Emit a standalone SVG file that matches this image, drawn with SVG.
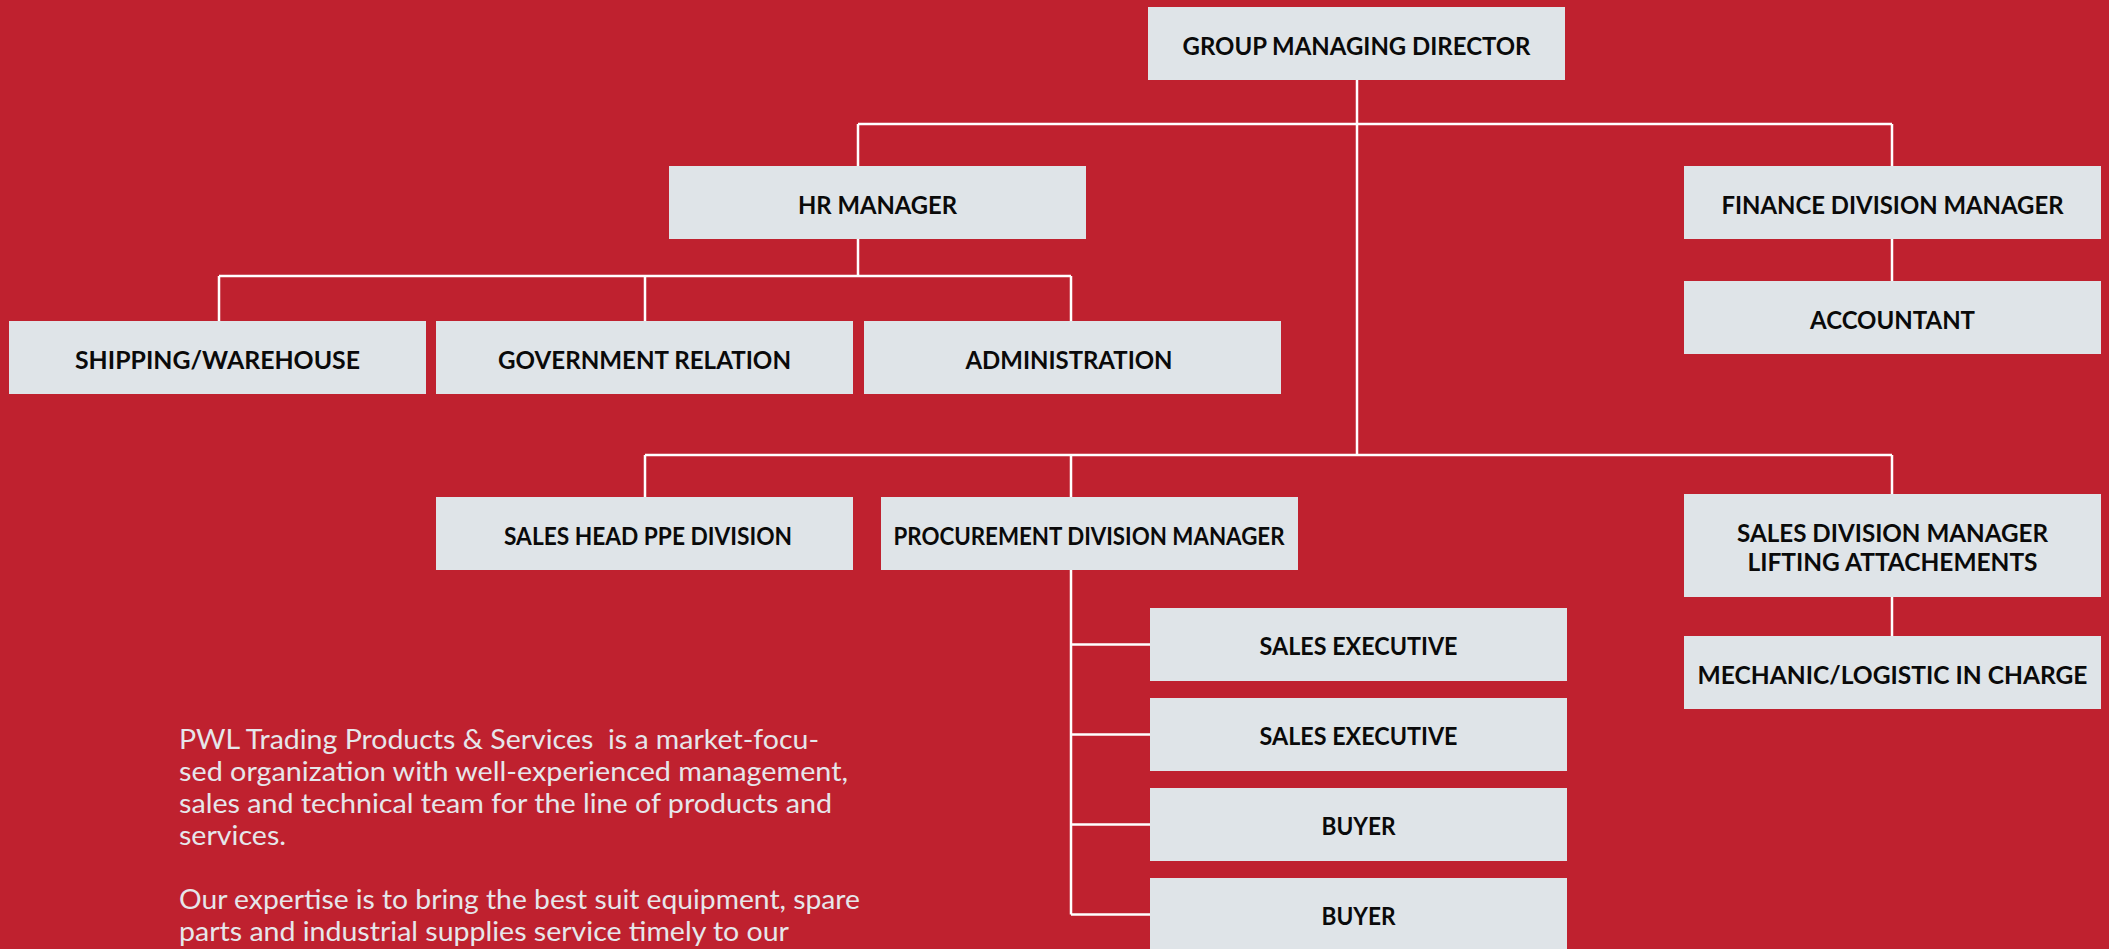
<svg xmlns="http://www.w3.org/2000/svg" width="2109" height="949" viewBox="0 0 2109 949">
<style>
.bg{fill:#bf212f}
.box{fill:#dfe4e8}
.lbl{font-family:Lato,"Liberation Sans",sans-serif;font-weight:700;font-size:24px;fill:#0a0a0a;text-anchor:middle}
.con{stroke:#ffffff;stroke-width:2.5;fill:none}
.para{font-family:Lato,"Liberation Sans",sans-serif;font-weight:400;font-size:26px;fill:#e6e6ea;white-space:pre}
</style>
<rect class="bg" x="0" y="0" width="2109" height="949"/>
<g id="connectors">
<path class="con" d="M1357 80 V455 M858 124 H1892 M858 124 V166 M1892 124 V166"/>
<path class="con" d="M858 239 V276 M219 276 H1071 M219 276 V321 M645 276 V321 M1071 276 V321"/>
<path class="con" d="M1892 239 V281"/>
<path class="con" d="M645 455 H1892 M645 455 V497 M1071 455 V497 M1892 455 V494"/>
<path class="con" d="M1892 597 V636"/>
<path class="con" d="M1071 570 V914.5 M1071 644.5 H1150 M1071 734.5 H1150 M1071 824.5 H1150 M1071 914.5 H1150"/>
</g>
<g id="gmd"><rect class="box" x="1148" y="7" width="417" height="73"/><text class="lbl" x="1356.5" y="55" textLength="348" lengthAdjust="spacingAndGlyphs">GROUP MANAGING DIRECTOR</text></g>
<g id="hr"><rect class="box" x="669" y="166" width="417" height="73"/><text class="lbl" x="877.5" y="214" textLength="159" lengthAdjust="spacingAndGlyphs">HR MANAGER</text></g>
<g id="finance"><rect class="box" x="1684" y="166" width="417" height="73"/><text class="lbl" x="1892.5" y="214" textLength="342" lengthAdjust="spacingAndGlyphs">FINANCE DIVISION MANAGER</text></g>
<g id="accountant"><rect class="box" x="1684" y="281" width="417" height="73"/><text class="lbl" x="1892.5" y="329" textLength="165" lengthAdjust="spacingAndGlyphs">ACCOUNTANT</text></g>
<g id="shipping"><rect class="box" x="9" y="321" width="417" height="73"/><text class="lbl" x="217.5" y="369" textLength="285" lengthAdjust="spacingAndGlyphs">SHIPPING/WAREHOUSE</text></g>
<g id="government"><rect class="box" x="436" y="321" width="417" height="73"/><text class="lbl" x="644.5" y="369" textLength="293" lengthAdjust="spacingAndGlyphs">GOVERNMENT RELATION</text></g>
<g id="administration"><rect class="box" x="864" y="321" width="417" height="73"/><text class="lbl" x="1069" y="369" textLength="207" lengthAdjust="spacingAndGlyphs">ADMINISTRATION</text></g>
<g id="saleshead"><rect class="box" x="436" y="497" width="417" height="73"/><text class="lbl" x="648" y="545" textLength="288" lengthAdjust="spacingAndGlyphs">SALES HEAD PPE DIVISION</text></g>
<g id="procurement"><rect class="box" x="881" y="497" width="417" height="73"/><text class="lbl" x="1089" y="545" textLength="391" lengthAdjust="spacingAndGlyphs">PROCUREMENT DIVISION MANAGER</text></g>
<g id="salesdiv"><rect class="box" x="1684" y="494" width="417" height="103"/><text class="lbl" x="1892.5" y="542" textLength="311" lengthAdjust="spacingAndGlyphs">SALES DIVISION MANAGER</text><text class="lbl" x="1892.5" y="571" textLength="290" lengthAdjust="spacingAndGlyphs">LIFTING ATTACHEMENTS</text></g>
<g id="mechanic"><rect class="box" x="1684" y="636" width="417" height="73"/><text class="lbl" x="1892.5" y="684" textLength="390" lengthAdjust="spacingAndGlyphs">MECHANIC/LOGISTIC IN CHARGE</text></g>
<g id="salesexec1"><rect class="box" x="1150" y="608" width="417" height="73"/><text class="lbl" x="1358.5" y="655" textLength="198" lengthAdjust="spacingAndGlyphs">SALES EXECUTIVE</text></g>
<g id="salesexec2"><rect class="box" x="1150" y="698" width="417" height="73"/><text class="lbl" x="1358.5" y="745" textLength="198" lengthAdjust="spacingAndGlyphs">SALES EXECUTIVE</text></g>
<g id="buyer1"><rect class="box" x="1150" y="788" width="417" height="73"/><text class="lbl" x="1358.5" y="835" textLength="74" lengthAdjust="spacingAndGlyphs">BUYER</text></g>
<g id="buyer2"><rect class="box" x="1150" y="878" width="417" height="73"/><text class="lbl" x="1358.5" y="925" textLength="74" lengthAdjust="spacingAndGlyphs">BUYER</text></g>
<g id="description">
<text class="para" x="179" y="749" textLength="640" lengthAdjust="spacingAndGlyphs">PWL Trading Products &amp; Services  is a market-focu-</text>
<text class="para" x="179" y="781" textLength="669" lengthAdjust="spacingAndGlyphs">sed organization with well-experienced management,</text>
<text class="para" x="179" y="813" textLength="653" lengthAdjust="spacingAndGlyphs">sales and technical team for the line of products and</text>
<text class="para" x="179" y="845" textLength="107" lengthAdjust="spacingAndGlyphs">services.</text>
<text class="para" x="179" y="909" textLength="681" lengthAdjust="spacingAndGlyphs">Our expertise is to bring the best suit equipment, spare</text>
<text class="para" x="179" y="941" textLength="610" lengthAdjust="spacingAndGlyphs">parts and industrial supplies service timely to our</text>
</g>
</svg>
